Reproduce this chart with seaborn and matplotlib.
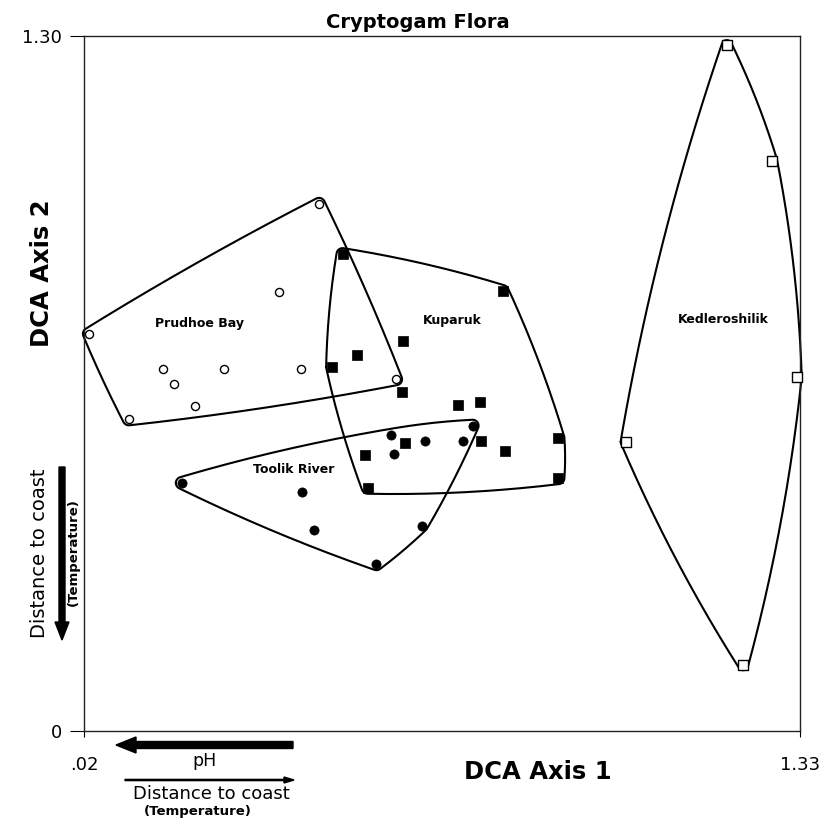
import numpy as np
import pandas as pd
import matplotlib
matplotlib.use("Agg")
import matplotlib.pyplot as plt
from matplotlib.patches import FancyArrow
import seaborn as sns

# DCA sample scores (axis 1, axis 2) by site
prudhoe_x = [0.029, 0.450, 0.377, 0.165, 0.185, 0.223, 0.276, 0.417, 0.102, 0.591]
prudhoe_y = [0.743, 0.986, 0.821, 0.677, 0.649, 0.608, 0.678, 0.677, 0.583, 0.658]

kuparuk_x = [0.493, 0.786, 0.603, 0.519, 0.474, 0.602, 0.704, 0.744, 0.608, 0.746,
             0.888, 0.535, 0.790, 0.888, 0.539]
kuparuk_y = [0.892, 0.823, 0.730, 0.703, 0.681, 0.634, 0.610, 0.615, 0.538, 0.543,
             0.548, 0.516, 0.523, 0.473, 0.455]

toolik_x = [0.199, 0.419, 0.440, 0.555, 0.638, 0.731, 0.582, 0.588, 0.643, 0.713]
toolik_y = [0.464, 0.447, 0.376, 0.312, 0.384, 0.571, 0.554, 0.518, 0.542, 0.542]

kedler_x = [1.196, 1.279, 1.324, 1.011, 1.226]
kedler_y = [1.283, 1.067, 0.663, 0.541, 0.123]

site_names = ["Prudhoe Bay", "Kuparuk", "Toolik River", "Kedleroshilik"]
label_x = [0.232, 0.693, 0.403, 1.190]
label_y = [0.763, 0.767, 0.490, 0.769]

x_ticks = [0.02, 1.33]
x_tick_labels = [".02", "1.33"]
y_ticks = [0.0, 1.30]
y_tick_labels = ["0", "1.30"]

W, H = 836, 818
sns.set_style("white")
plt.rcParams["font.family"] = ["DejaVu Sans"]
plt.rcParams["text.color"] = "black"
plt.rcParams["xtick.color"] = "black"
plt.rcParams["ytick.color"] = "black"
plt.rcParams["axes.labelcolor"] = "black"

fig = plt.figure(figsize=(W / 100, H / 100), dpi=100)
ax = fig.add_axes([84 / W, 87 / H, 716 / W, 695 / H])
ax.set_xlim(0.02, 1.33)
ax.set_ylim(0.0, 1.30)

# axis units -> roughly isotropic drawing units for the envelopes
SX, SY = 546.6, 534.6


def convex_hull(pts):
    pts = sorted(map(tuple, pts))
    def cross(o, a, b):
        return (a[0] - o[0]) * (b[1] - o[1]) - (a[1] - o[1]) * (b[0] - o[0])
    lower, upper = [], []
    for p in pts:
        while len(lower) >= 2 and cross(lower[-2], lower[-1], p) <= 0:
            lower.pop()
        lower.append(p)
    for p in reversed(pts):
        while len(upper) >= 2 and cross(upper[-2], upper[-1], p) <= 0:
            upper.pop()
        upper.append(p)
    return np.array(lower[:-1] + upper[:-1])


def envelope(xs, ys, r, bulge):
    """Rounded, slightly bowed outline around a group of samples."""
    P = np.column_stack([np.asarray(xs) * SX, np.asarray(ys) * SY])
    hull = convex_hull(P)
    t = np.linspace(0, 1, 40)[:, None]
    segs = []
    for i in range(len(hull)):
        a, b = hull[i], hull[(i + 1) % len(hull)]
        d = b - a
        L = np.hypot(*d)
        n = np.array([d[1], -d[0]]) / L
        c = (a + b) / 2 + n * bulge * L
        segs.append((1 - t) ** 2 * a + 2 * t * (1 - t) * c + t ** 2 * b)
    D = np.vstack(segs)
    ang = np.linspace(0, 2 * np.pi, 48, endpoint=False)
    circ = np.stack([np.cos(ang), np.sin(ang)], axis=1)
    ring = (D[:, None, :] + r * circ[None, :, :]).reshape(-1, 2)
    O = convex_hull(ring)
    O = np.vstack([O, O[:1]])
    return O[:, 0] / SX, O[:, 1] / SY


groups = [
    (prudhoe_x, prudhoe_y, dict(marker="o", s=34, facecolor="white", edgecolor="black", linewidth=1.0), 6, 0.02),
    (kuparuk_x, kuparuk_y, dict(marker="s", s=52, color="black", edgecolor="black", linewidth=0.5), 6, 0.035),
    (toolik_x, toolik_y, dict(marker="o", s=44, color="black", edgecolor="black", linewidth=0.5), 6, 0.03),
    (kedler_x, kedler_y, dict(marker="s", s=44, facecolor="white", edgecolor="black", linewidth=1.0), 5, 0.04),
]

for (xs, ys, style, r, bulge), name in zip(groups, site_names):
    ex, ey = envelope(xs, ys, r, bulge)
    ax.plot(ex, ey, color="black", lw=1.5, solid_joinstyle="round", clip_on=False, zorder=2)
    df = pd.DataFrame({"axis1": xs, "axis2": ys})
    sns.scatterplot(data=df, x="axis1", y="axis2", ax=ax, zorder=3, clip_on=False, **style)

for name, lx, ly in zip(site_names, label_x, label_y):
    ax.text(lx, ly, name, ha="center", va="center", fontsize=9, fontweight="bold")

# axes frame and end-point ticks
for sp in ax.spines.values():
    sp.set_visible(True)
    sp.set_color("#222222")
    sp.set_linewidth(1.0)
ax.set_xticks(x_ticks)
ax.set_xticklabels(x_tick_labels, fontsize=13)
ax.set_yticks(y_ticks)
ax.set_yticklabels(y_tick_labels, fontsize=13)
ax.tick_params(axis="y", direction="out", length=10, width=0.8, pad=6, left=True)
ax.tick_params(axis="x", direction="out", length=4, width=0.8, pad=14, bottom=True)
ax.set_xlabel("")
ax.set_ylabel("")


def fx(px):
    return px / W


def fy(py):
    return 1 - py / H


fig.text(fx(418), fy(22), "Cryptogam Flora", ha="center", va="center", fontsize=14, fontweight="bold")
fig.text(fx(538), fy(772), "DCA Axis 1", ha="center", va="center", fontsize=17.5, fontweight="bold")
fig.text(fx(42), fy(273), "DCA Axis 2", ha="center", va="center", fontsize=17.5, fontweight="bold", rotation=90)

# environmental gradient arrows (drawn in inches for equal scaling)
def arrow(x0, y0, x1, y1, width, hw, hl):
    a = FancyArrow(x0 / 100, (H - y0) / 100, (x1 - x0) / 100, -(y1 - y0) / 100,
                   width=width / 100, head_width=hw / 100, head_length=hl / 100,
                   length_includes_head=True, color="black",
                   transform=fig.dpi_scale_trans)
    fig.patches.append(a)


arrow(62, 467, 62, 640, 6, 14, 18)
arrow(293, 745, 116, 745, 7, 16, 20)
arrow(125, 780, 294, 780, 1.2, 6, 10)

fig.text(fx(40), fy(553), "Distance to coast", ha="center", va="center", fontsize=14, rotation=90)
fig.text(fx(73), fy(552), "(Temperature)", ha="center", va="center", fontsize=9.5, fontweight="bold", rotation=90)
fig.text(fx(204), fy(761), "pH", ha="center", va="center", fontsize=12.5)
fig.text(fx(211), fy(794), "Distance to coast", ha="center", va="center", fontsize=13)
fig.text(fx(198), fy(812), "(Temperature)", ha="center", va="center", fontsize=9.5, fontweight="bold")

fig.savefig("out.png", dpi=100)
